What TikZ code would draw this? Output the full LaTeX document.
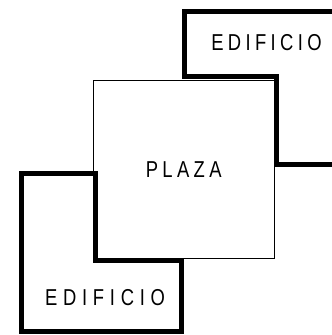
\documentclass[tikz,border=0pt]{standalone}
\usepackage{fontspec}
\newfontfamily\planofont[FakeStretch=0.8, LetterSpace=19]{Liberation Sans}
\newfontfamily\planofontancho[FakeStretch=0.8, LetterSpace=25]{Liberation Sans}
\usetikzlibrary{positioning}
\tikzset{
  plano/edificio/.style={line width=5pt, line join=miter},
  plano/plaza/.style={draw, line width=0.7pt, minimum width=180.5pt, minimum height=178.5pt, inner sep=0pt, font=\planofont\fontsize{23}{23}\selectfont},
  plano/rotulo/.style={inner sep=0pt, font=\planofont\fontsize{23}{23}\selectfont},
  plano/rotuloancho/.style={plano/rotulo, font=\planofontancho\fontsize{23}{23}\selectfont}
}

\begin{document}
\begin{tikzpicture}[x=1pt, y=1pt]
  \useasboundingbox (0,0) rectangle (332,335);
  % Plaza central
  \node[plano/plaza] (plaza) at (183.75,165.75) {PLAZA};

  % Edificio de arriba
  \draw[plano/edificio] (340,323.5) -- (184.5,323.5) -- (184.5,258.5) -- (276,258.5) -- (276,170) -- (340,170);
  \node[plano/rotulo] (edarriba) at (266.5,292.5) {EDIFICIO};

  % Edificio de abajo
  \draw[plano/edificio] (95.5,161.5) -- (21,161.5) -- (21,3) -- (181.5,3) -- (181.5,74) -- (95.5,74) -- cycle;
  \node[plano/rotuloancho] (edabajo) at (105,37) {EDIFICIO};
\end{tikzpicture}
\end{document}
